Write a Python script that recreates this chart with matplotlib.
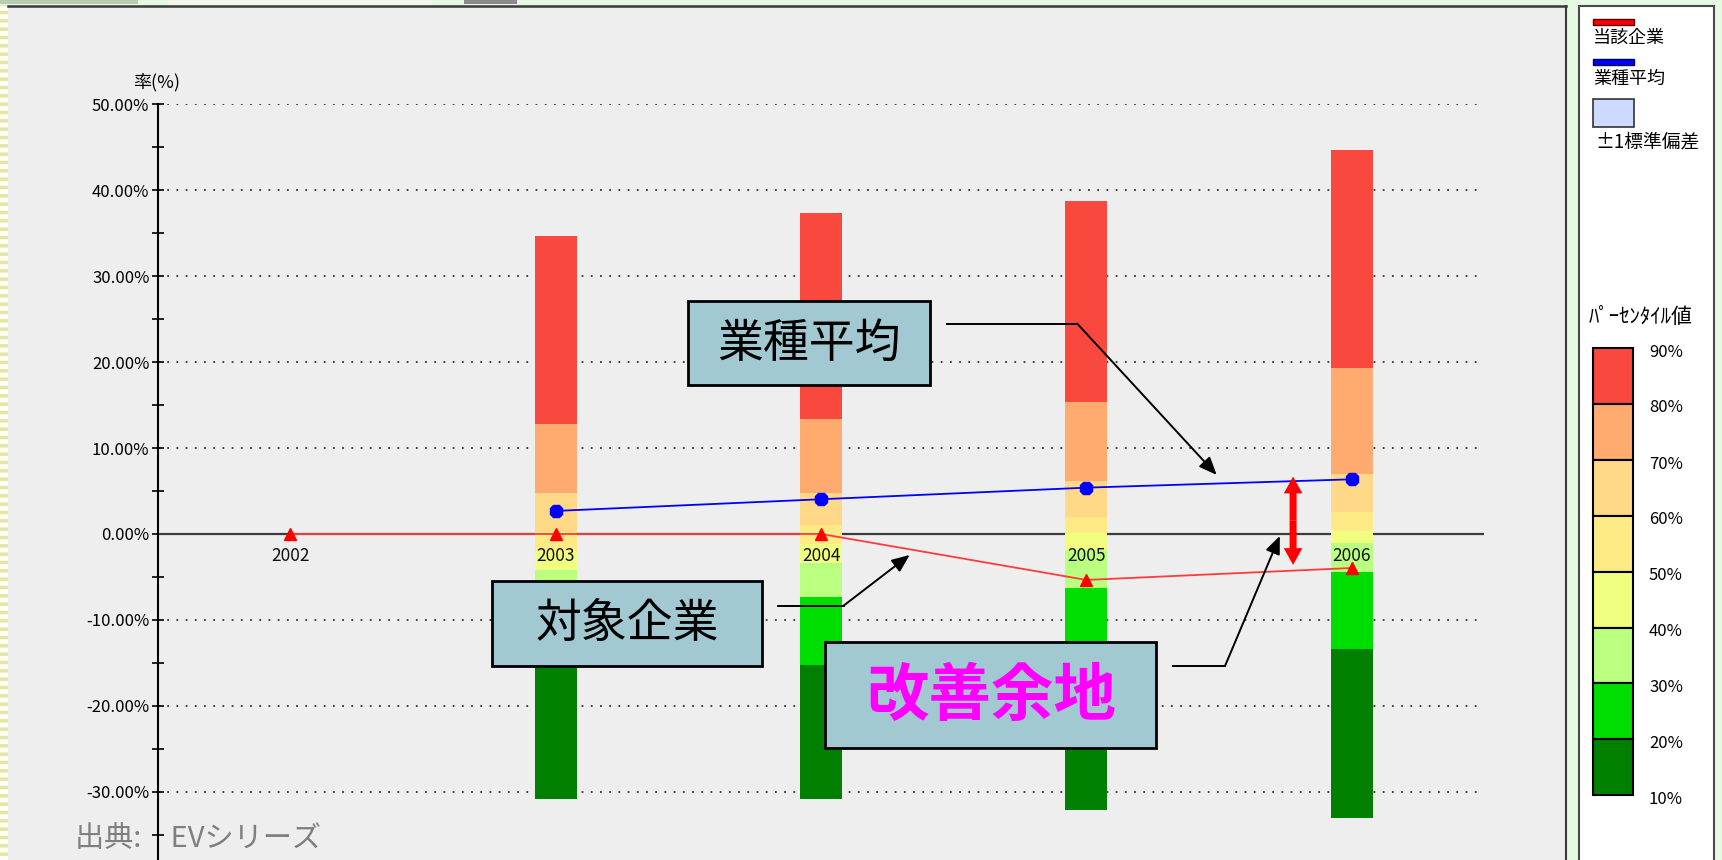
import matplotlib
matplotlib.use('Agg')
import matplotlib.pyplot as plt
from matplotlib.patches import Rectangle
from matplotlib.lines import Line2D
from matplotlib.ticker import MultipleLocator, FixedLocator
import numpy as np

plt.rcParams['font.family'] = ['Noto Sans CJK JP', 'DejaVu Sans']
plt.rcParams['hatch.linewidth'] = 2.5

W, H = 1722, 860

# --- data (percent) ---
years = [2002, 2003, 2004, 2005, 2006]
company = [0.0, 0.0, 0.0, -5.35, -3.96]          # 当該企業
avg_years = [2003, 2004, 2005, 2006]
industry_avg = [2.68, 4.04, 5.39, 6.36]          # 業種平均

bar_years = [2003, 2004, 2005, 2006]
p10 = [-30.8, -30.8, -32.1, -33.1]
p20 = [-14.5, -15.3, -14.5, -13.4]
p30 = [-6.5, -7.3, -6.3, -4.4]
p40 = [-4.2, -3.4, -1.9, -1.1]
p50 = [-2.0, -1.2, 0.1, 0.3]
p60 = [0.2, 1.05, 2.0, 2.5]
p70 = [4.8, 4.8, 6.2, 7.0]
p80 = [12.8, 13.4, 15.4, 19.3]
p90 = [34.7, 37.4, 38.7, 44.7]
percentiles = [p10, p20, p30, p40, p50, p60, p70, p80, p90]
pct_labels = ['10%', '20%', '30%', '40%', '50%', '60%', '70%', '80%', '90%']
band_colors = ['#007F00', '#00DD00', '#BBFF80', '#F0FF80',
               '#FFEB85', '#FFD888', '#FFAA6E', '#F9483E']

ytick_vals = [-30, -20, -10, 0, 10, 20, 30, 40, 50]


def fx(px):
    return px / W


def fy(py):
    return 1 - py / H


def fig_rect(x0, y0, x1, y1, **kw):
    # pixel box (top-left origin) -> figure rectangle
    r = Rectangle((fx(x0), fy(y1)), (x1 - x0) / W, (y1 - y0) / H,
                  transform=fig.transFigure, **kw)
    fig.add_artist(r)
    return r


fig = plt.figure(figsize=(17.22, 8.6), dpi=100, facecolor='#E6F9E2')

# window chrome (behind the axes)
bg = dict(zorder=-5)
fig_rect(0, 0, 138, 4, facecolor='#B8CCB0', lw=0, **bg)
fig_rect(168, 0, 432, 4, facecolor='#F4F6EE', lw=0, **bg)
fig_rect(464, 0, 517, 4, facecolor='#8A8A8A', lw=0, **bg)
fig_rect(0, 5, 8, 870, facecolor='#FFFFF2', edgecolor='#E8E4A6', hatch='--', lw=0, **bg)
fig_rect(8, 5.5, 1565.7, 870, facecolor='#EEEEEE', lw=0, **bg)
fig.add_artist(Line2D([fx(8), fx(1565.7)], [fy(5.5), fy(5.5)], color='#3A3A3A', lw=1.8,
                      transform=fig.transFigure, zorder=-4))
fig.add_artist(Line2D([fx(1565.7), fx(1565.7)], [fy(5.5), 0], color='#3A3A3A', lw=1.5,
                      transform=fig.transFigure, zorder=-4))
fig_rect(1579.3, 5.7, 1714.3, 870, facecolor='white', edgecolor='#4A4A4A', lw=1.5, **bg)

# --- main axes ---
ax = fig.add_axes([fx(157.75), 0, (1484.4 - 157.75) / W, 1 - 104.3 / H])
ax.set_facecolor('none')
ax.set_xlim(2001.5, 2006.5)
ax.set_ylim(-37.94, 50)
for s in ['top', 'right', 'bottom']:
    ax.spines[s].set_visible(False)
ax.spines['left'].set_linewidth(1.5)
ax.set_xticks([])
ax.yaxis.set_major_locator(FixedLocator(ytick_vals))
ax.set_yticklabels([f'{v:.2f}%' for v in ytick_vals])
ax.yaxis.set_minor_locator(MultipleLocator(5))
ax.tick_params(axis='y', which='both', direction='inout', length=8, width=1.2,
               labelsize=12, pad=2)
ax.yaxis.grid(True, linestyle=(0, (1, 4.1)), color='#333333', lw=1.3)
ax.set_axisbelow(True)
ax.axhline(0, color='#3C3C3C', lw=1.6, zorder=1.5)

# percentile bars
for i in range(len(band_colors)):
    lo = np.array(percentiles[i])
    hi = np.array(percentiles[i + 1])
    ax.bar(bar_years, hi - lo, bottom=lo, width=0.158, color=band_colors[i],
           lw=0, zorder=2)

# lines
ax.plot(avg_years, industry_avg, color='#0000FF', lw=1.3, zorder=3)
ax.plot(avg_years, industry_avg, ls='none', marker='8', ms=9.5, color='#0000FF', zorder=3.5)
ax.plot(years, company, color='#FF3B3B', lw=1.3, zorder=3)
ax.plot(years, company, ls='none', marker='^', ms=8, color='#FF0000', zorder=3.5)

for yr in years:
    ax.annotate(str(yr), (yr, 0), xytext=(0, -15.6), textcoords='offset points',
                ha='center', va='center', fontsize=12.5, color='#111111', zorder=4)

ax.text(2001.497, 52.6, '率(%)', ha='center', va='center', fontsize=13, clip_on=False)

# callout boxes
callouts = [
    # x0, x1, y0, y1, text, text pos, fontsize, color, weight, leader start, corner, tip
    (2003.50, 2004.41, 17.34, 27.11, '業種平均', (2003.955, 22.2), 33, 'black', 'normal',
     (2004.473, 24.49), (2004.965, 24.49), (2005.491, 6.87)),
    (2002.76, 2003.778, -15.36, -5.47, '対象企業', (2003.269, -10.47), 33, 'black', 'normal',
     (2003.837, -8.34), (2004.085, -8.34), (2004.334, -2.44)),
    (2004.013, 2005.263, -24.87, -12.60, '改善余地', (2004.641, -18.85), 45, '#FF00FF', 'bold',
     (2005.325, -15.32), (2005.523, -15.32), (2005.729, -0.23)),
]
for x0, x1, y0, y1, txt, tpos, fs, col, wt, st, cn, tip in callouts:
    ax.add_patch(Rectangle((x0, y0), x1 - x0, y1 - y0, facecolor='#A2C9D2',
                           edgecolor='black', lw=2, zorder=6))
    ax.text(tpos[0], tpos[1], txt, ha='center', va='center', fontsize=fs, color=col,
            fontweight=wt, zorder=7)
    ax.plot([st[0], cn[0]], [st[1], cn[1]], color='black', lw=1.4, zorder=6)
    ax.annotate('', xy=tip, xytext=cn, zorder=6,
                arrowprops=dict(arrowstyle='-|>,head_length=0.6,head_width=0.25',
                                color='black', lw=1.4, mutation_scale=18,
                                shrinkA=0, shrinkB=0))

# red double arrow (gap between industry average and company)
gap_x, gap_top, gap_bot = 2005.779, 6.67, -3.6
mid = (gap_top + gap_bot) / 2
for end in (gap_top, gap_bot):
    ax.arrow(gap_x, mid, 0, end - mid, width=0.0264, head_width=0.07, head_length=1.95,
             length_includes_head=True, color='#FF0000', lw=0, zorder=6)

# source note
fig.text(fx(75), fy(839), '出典:\u3000EVシリーズ', ha='left', va='center', fontsize=21,
         color='#7F7F7F')

# --- legend panel ---
fig_rect(1592.7, 19.3, 1634, 24.7, facecolor='#FF0000', edgecolor='#500000', lw=1)
fig.text(fx(1593), fy(38), '当該企業', ha='left', va='center', fontsize=13)
fig_rect(1592.7, 59.3, 1634, 65, facecolor='#0000FF', edgecolor='#000050', lw=1)
fig.text(fx(1593), fy(79), '業種平均', ha='left', va='center', fontsize=13)
fig_rect(1592.7, 99.3, 1634, 126.7, facecolor='#CCDAFF', edgecolor='#333333', lw=1.2)
fig.text(fx(1595), fy(142), '±1標準偏差', ha='left', va='center', fontsize=13.5)
fig.text(fx(1589), fy(317), 'ﾊﾟｰｾﾝﾀｲﾙ値', ha='left', va='center', fontsize=15)

edges = [348.3, 404, 460, 515.7, 571.7, 627.7, 683.3, 739.3, 795]
for k in range(8):
    fig_rect(1592.7, edges[k], 1633.3, edges[k + 1], facecolor=band_colors[7 - k],
             edgecolor='black', lw=1.5)
for k, lab in enumerate(pct_labels[::-1]):
    fig.text(fx(1649), fy(edges[k] + 4), lab, ha='left', va='center', fontsize=12)

fig.savefig('out.png', dpi=100, facecolor=fig.get_facecolor())
